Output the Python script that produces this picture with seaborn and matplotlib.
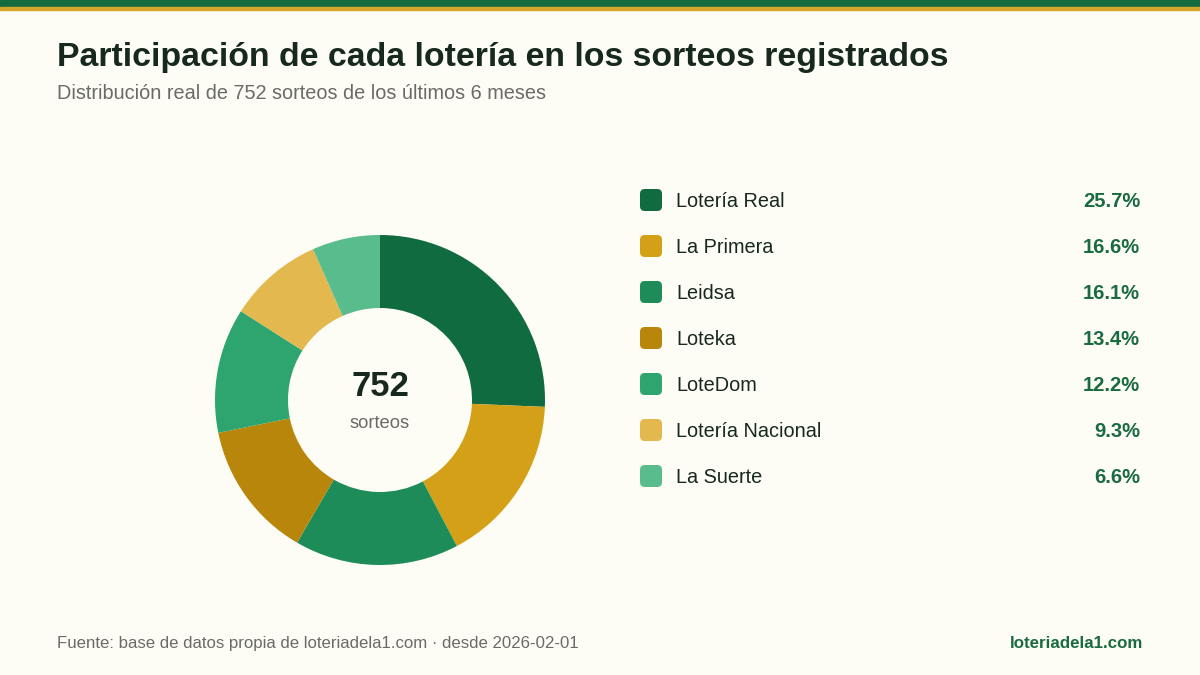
import matplotlib
matplotlib.use("Agg")
import matplotlib.pyplot as plt
from matplotlib.patches import Rectangle, FancyBboxPatch
import seaborn as sns

# ---- data ----
categories = ["Lotería Real", "La Primera", "Leidsa", "Loteka", "LoteDom", "Lotería Nacional", "La Suerte"]
counts = [193, 125, 121, 101, 92, 70, 50]
colors = ["#116B40", "#D4A017", "#1E8C58", "#B8860B", "#2EA56E", "#E3B84F", "#58BC8C"]
total = sum(counts)
pct_labels = [f"{c / total * 100:.1f}%" for c in counts]

title = "Participación de cada lotería en los sorteos registrados"
subtitle = f"Distribución real de {total} sorteos de los últimos 6 meses"
source = "Fuente: base de datos propia de loteriadela1.com · desde 2026-02-01"
brand = "loteriadela1.com"

BG = "#FDFDF5"
DARK = "#17291E"
GRAY = "#6B6B66"
GREEN_TXT = "#1A6B42"

sns.set_theme(style="white")
plt.rcParams["font.family"] = ["Liberation Sans", "DejaVu Sans"]

W, H = 1200, 675
fig = plt.figure(figsize=(12, 6.75), dpi=100, facecolor=BG)

def fx(px):
    return px / W

def fy(py):
    return 1 - py / H

# top bars
fig.patches.append(Rectangle((0, fy(7)), 1, 7 / H, transform=fig.transFigure, color="#136B3E", zorder=5))
fig.patches.append(Rectangle((0, fy(10)), 1, 3 / H, transform=fig.transFigure, color="#D4A52A", zorder=5))

fig.text(fx(57), fy(66), title, fontsize=24.4, fontweight="bold", color=DARK, va="baseline", ha="left")
fig.text(fx(57), fy(99), subtitle, fontsize=14.3, color=GRAY, va="baseline", ha="left")

# donut
cx, cy, R = 380, 400, 165
half = 172
ax = fig.add_axes([fx(cx - half), fy(cy + half), 2 * half / W, 2 * half / H])
ax.set_facecolor(BG)
lim = half / R
ax.pie(counts, colors=colors, startangle=90, counterclock=False, radius=1,
       wedgeprops=dict(width=1 - 92 / R, edgecolor="none", linewidth=0))
ax.set_xlim(-lim, lim)
ax.set_ylim(-lim, lim)
ax.set_aspect("equal")
ax.axis("off")
ax.text(0, 4 / R, f"{total}", ha="center", va="baseline", fontsize=25, fontweight="bold", color=DARK)
ax.text(0, -28 / R, "sorteos", ha="center", va="baseline", fontsize=13.2, color=GRAY)

# legend list
y0, step = 200, 46
for i, (cat, col, lab) in enumerate(zip(categories, colors, pct_labels)):
    y = y0 + i * step
    sq = 22
    fig.patches.append(FancyBboxPatch((fx(640), fy(y + sq / 2)), sq / W, sq / H,
                                      boxstyle="round,pad=0,rounding_size=0.004",
                                      transform=fig.transFigure, facecolor=col, edgecolor="none",
                                      mutation_aspect=W / H))
    fig.text(fx(676), fy(y + 7), cat, fontsize=14.3, color=DARK, va="baseline", ha="left")
    fig.text(fx(1140), fy(y + 7), lab, fontsize=14.5, fontweight="bold", color=GREEN_TXT, va="baseline", ha="right")

fig.text(fx(57), fy(648), source, fontsize=12.1, color=GRAY, va="baseline", ha="left")
fig.text(fx(1143), fy(648), brand, fontsize=12.2, fontweight="bold", color=GREEN_TXT, va="baseline", ha="right")

fig.savefig("out.png", dpi=100, facecolor=BG)
